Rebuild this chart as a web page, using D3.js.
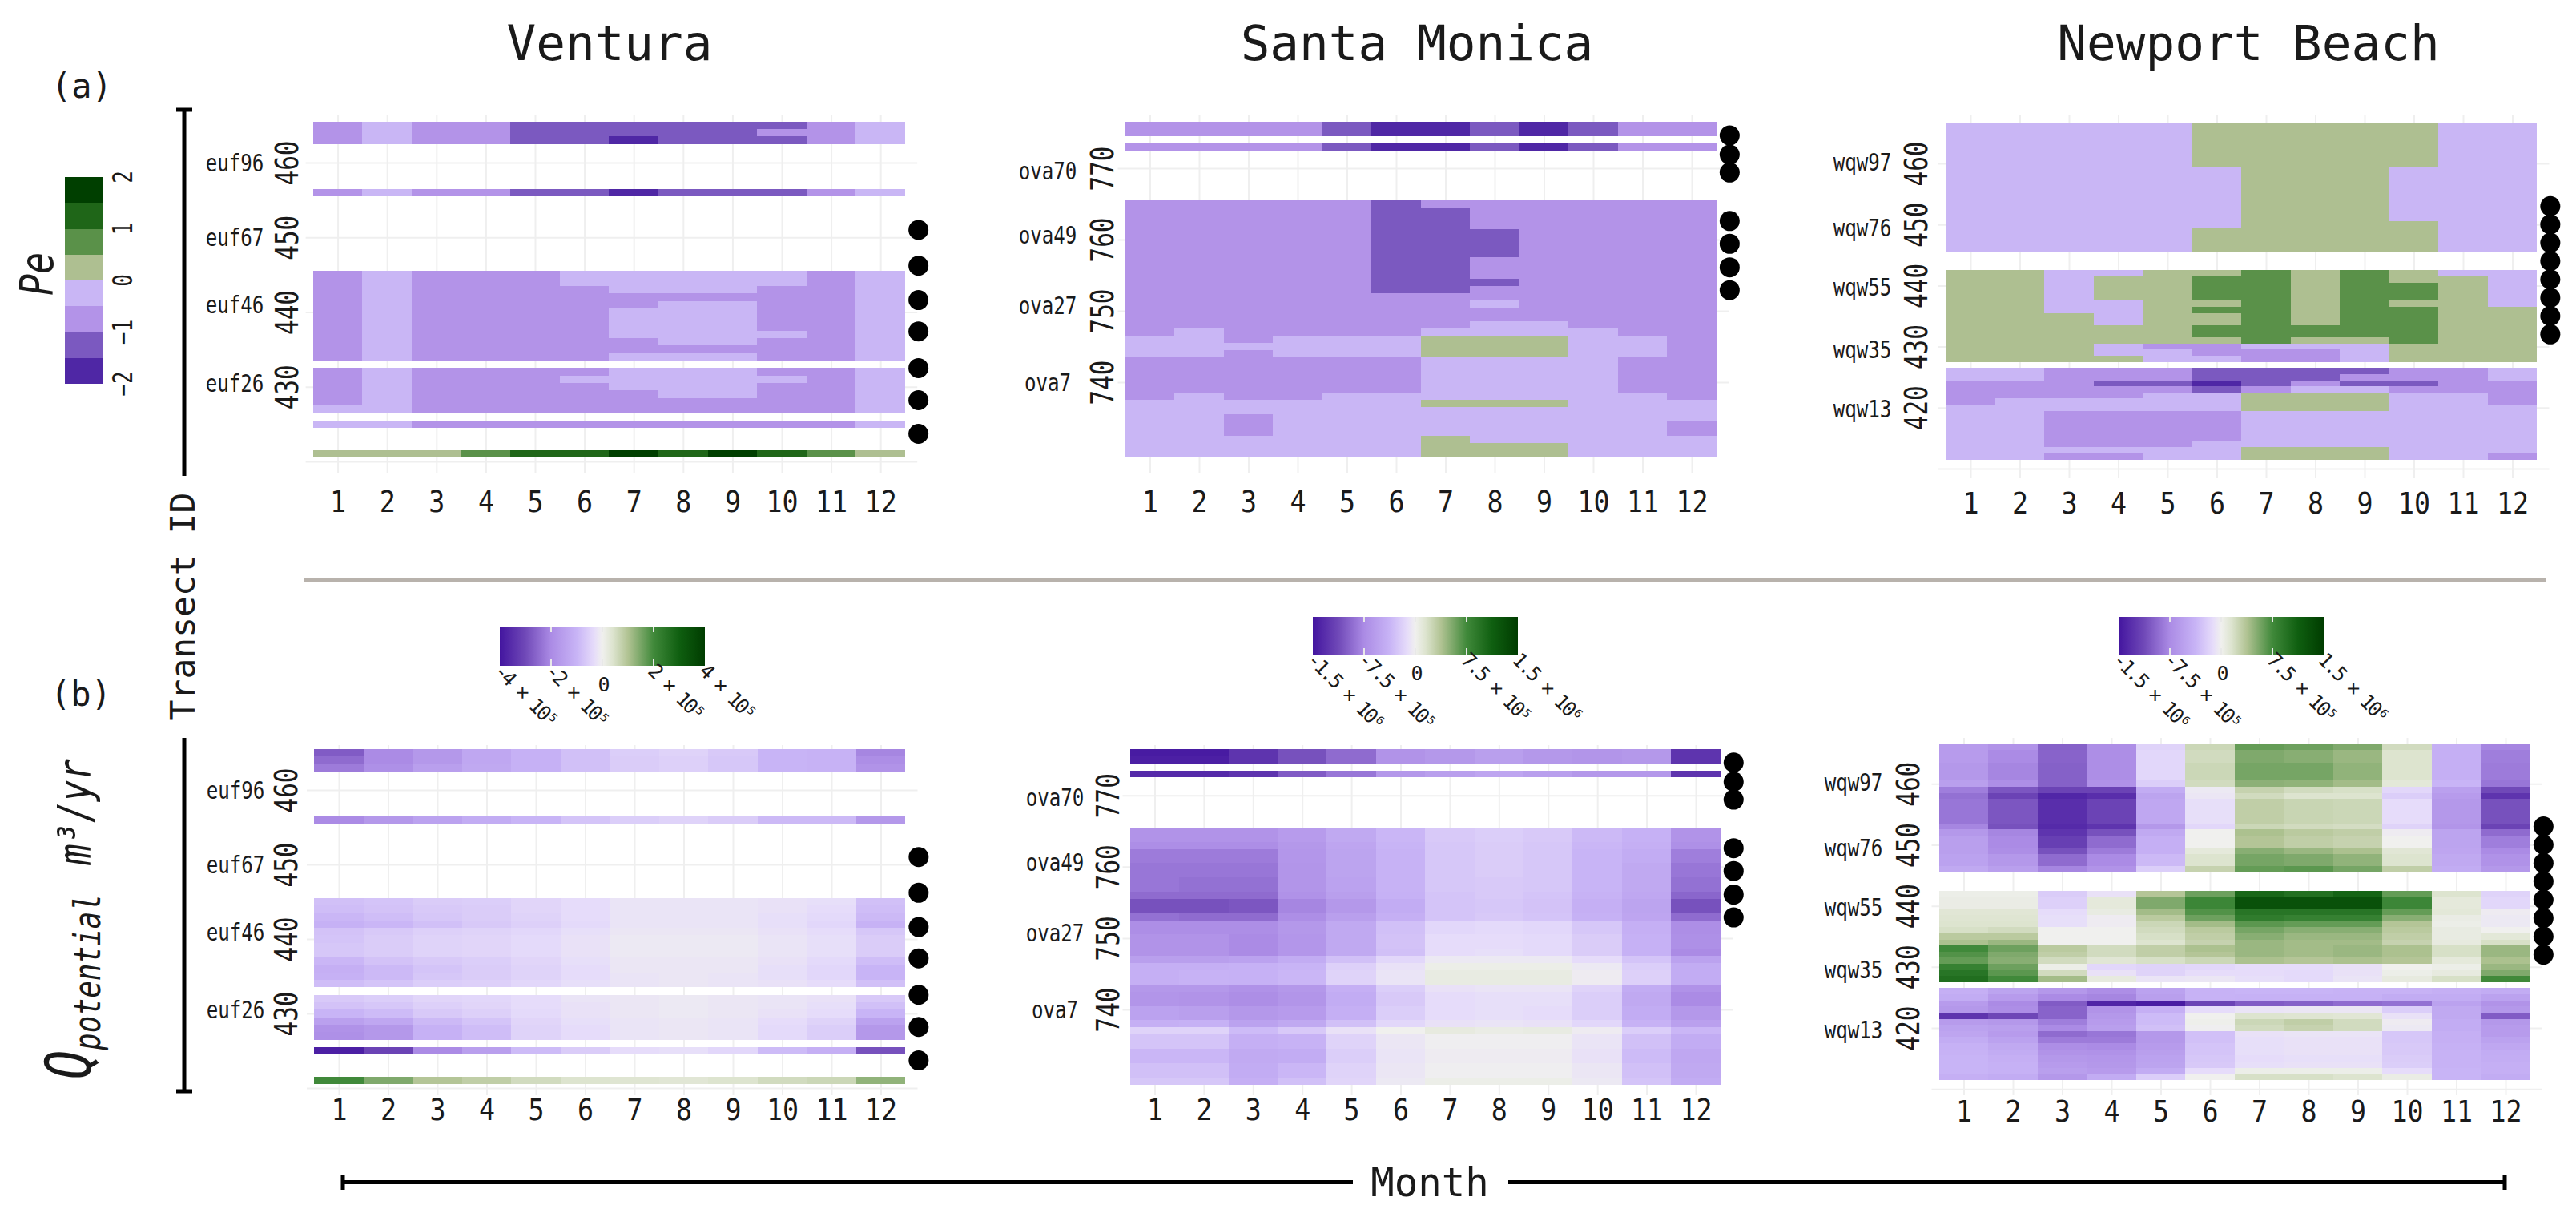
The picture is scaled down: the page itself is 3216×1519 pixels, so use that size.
<!DOCTYPE html>
<html>
<head>
<meta charset="utf-8">
<script src="https://cdn.jsdelivr.net/npm/d3@7"></script>
<style>
  body { margin: 0; background: #fff; }
  text { font-family: "DejaVu Sans Mono", monospace; fill: #1a1a1a; }
</style>
</head>
<body>
<svg id="chart" width="3216" height="1519"></svg>
<script>
const months = [1, 2, 3, 4, 5, 6, 7, 8, 9, 10, 11, 12];
const siteNames = ["Ventura", "Santa Monica", "Newport Beach"];

// Pe class midpoints, one letter per colour bar step
const a = -1.75, b = -1.25, c = -0.75, d = -0.25, e = 0.25, f = 0.75, g = 1.25;
const h = 1.75;

// each row: first transect, last transect, then one value per month
const peVentura = [
  [465, 465, c, d, c, c, b, b, b, b, b, b, c, d],
  [464, 464, c, d, c, c, b, b, b, b, b, c, c, d],
  [463, 463, c, d, c, c, b, b, a, b, b, b, c, d],
  [456, 456, c, d, c, c, b, b, a, b, b, b, c, d],
  [445, 444, c, d, c, c, c, d, d, d, d, d, c, d],
  [443, 443, c, d, c, c, c, c, d, d, d, c, c, d],
  [442, 442, c, d, c, c, c, c, c, c, c, c, c, d],
  [441, 441, c, d, c, c, c, c, c, d, d, c, c, d],
  [440, 438, c, d, c, c, c, c, d, d, d, c, c, d],
  [437, 437, c, d, c, c, c, c, d, d, d, d, c, d],
  [436, 436, c, d, c, c, c, c, c, d, d, c, c, d],
  [435, 435, c, d, c, c, c, c, c, c, c, c, c, d],
  [434, 434, c, d, c, c, c, c, d, d, d, c, c, d],
  [432, 432, c, d, c, c, c, c, d, d, d, c, c, d],
  [431, 431, c, d, c, c, c, d, d, d, d, d, c, d],
  [430, 430, c, d, c, c, c, c, d, d, d, c, c, d],
  [429, 429, c, d, c, c, c, c, c, d, d, c, c, d],
  [428, 428, c, d, c, c, c, c, c, c, c, c, c, d],
  [427, 427, d, d, c, c, c, c, c, c, c, c, c, d],
  [425, 425, d, d, c, c, c, c, c, c, c, c, c, d],
  [421, 421, e, e, e, f, g, g, h, g, h, g, f, e]
];

const peSantaMonica = [
  [776, 775, c, c, c, c, b, a, a, b, a, b, c, c],
  [773, 773, c, c, c, c, b, a, a, b, a, b, c, c],
  [765, 765, c, c, c, c, c, b, c, c, c, c, c, c],
  [764, 762, c, c, c, c, c, b, b, c, c, c, c, c],
  [761, 758, c, c, c, c, c, b, b, b, c, c, c, c],
  [757, 755, c, c, c, c, c, b, b, c, c, c, c, c],
  [754, 754, c, c, c, c, c, b, b, b, c, c, c, c],
  [753, 753, c, c, c, c, c, b, b, c, c, c, c, c],
  [752, 752, c, c, c, c, c, c, c, c, c, c, c, c],
  [751, 751, c, c, c, c, c, c, c, d, c, c, c, c],
  [750, 749, c, c, c, c, c, c, c, c, c, c, c, c],
  [748, 748, c, c, c, c, c, c, c, d, d, c, c, c],
  [747, 747, c, d, c, c, c, c, d, d, d, d, c, c],
  [746, 746, d, d, c, d, d, d, e, e, e, d, d, c],
  [745, 745, d, d, d, d, d, d, e, e, e, d, d, c],
  [744, 744, d, d, c, d, d, d, e, e, e, d, d, c],
  [743, 739, c, c, c, c, c, c, d, d, d, d, c, c],
  [738, 738, c, d, c, c, d, d, d, d, d, d, d, c],
  [737, 737, d, d, d, d, d, d, e, e, e, d, d, d],
  [736, 736, d, d, d, d, d, d, d, d, d, d, d, d],
  [735, 735, d, d, c, d, d, d, d, d, d, d, d, d],
  [734, 733, d, d, c, d, d, d, d, d, d, d, d, c],
  [732, 732, d, d, d, d, d, d, e, d, d, d, d, d],
  [731, 730, d, d, d, d, d, d, e, e, e, d, d, d]
];

const peNewport = [
  [466, 460, d, d, d, d, d, e, e, e, e, e, d, d],
  [459, 451, d, d, d, d, d, d, e, e, e, d, d, d],
  [450, 450, d, d, d, d, d, d, e, e, e, e, d, d],
  [449, 446, d, d, d, d, d, e, e, e, e, e, d, d],
  [442, 442, e, e, d, d, e, e, f, e, f, e, d, d],
  [441, 441, e, e, d, e, e, f, f, e, f, e, e, d],
  [440, 438, e, e, d, e, e, f, f, e, f, f, e, d],
  [437, 437, e, e, d, d, e, e, f, e, f, e, e, d],
  [436, 436, e, e, d, d, e, f, f, e, f, f, e, e],
  [435, 434, e, e, e, d, e, e, f, e, f, f, e, e],
  [433, 432, e, e, e, e, e, f, f, f, f, f, e, e],
  [431, 431, e, e, e, e, e, e, f, e, e, f, e, e],
  [430, 430, e, e, e, d, c, c, d, d, d, e, e, e],
  [429, 429, e, e, e, d, d, c, c, c, d, e, e, e],
  [428, 428, e, e, e, e, d, d, c, c, d, e, e, e],
  [426, 426, d, d, c, c, c, b, b, b, b, c, c, d],
  [425, 425, d, d, c, c, c, b, b, b, c, c, c, d],
  [424, 424, c, c, c, b, b, a, b, c, b, b, c, c],
  [423, 423, c, c, c, c, c, b, c, d, d, c, c, c],
  [422, 422, c, c, c, c, d, d, e, e, e, d, d, c],
  [421, 421, c, d, d, d, d, d, e, e, e, d, d, c],
  [420, 420, d, d, d, d, d, d, e, e, e, d, d, d],
  [419, 415, d, d, c, c, c, c, d, d, d, d, d, d],
  [414, 414, d, d, c, c, c, d, d, d, d, d, d, d],
  [413, 413, d, d, d, d, d, d, e, e, e, d, d, d],
  [412, 412, d, d, c, c, d, d, e, e, e, d, d, c]
];

// Q rows hold the value as a share of that panel's colour bar limit
const qVentura = [
  [465, 465, -.68, -.5, -.42, -.33, -.27, -.2, -.14, -.12, -.16, -.25, -.26, -.52],
  [464, 464, -.62, -.5, -.42, -.33, -.27, -.2, -.15, -.13, -.17, -.25, -.26, -.48],
  [463, 463, -.56, -.47, -.38, -.32, -.27, -.2, -.15, -.13, -.17, -.25, -.26, -.45],
  [456, 456, -.5, -.42, -.36, -.3, -.25, -.18, -.14, -.12, -.15, -.23, -.23, -.42],
  [445, 445, -.2, -.18, -.15, -.14, -.11, -.08, -.05, -.05, -.05, -.06, -.07, -.2],
  [444, 444, -.21, -.19, -.16, -.15, -.11, -.08, -.05, -.05, -.05, -.06, -.08, -.21],
  [443, 443, -.24, -.21, -.17, -.15, -.12, -.08, -.05, -.05, -.05, -.07, -.09, -.23],
  [442, 442, -.27, -.24, -.2, -.16, -.13, -.09, -.05, -.05, -.05, -.07, -.1, -.26],
  [441, 441, -.19, -.16, -.13, -.12, -.1, -.07, -.04, -.04, -.04, -.06, -.08, -.17],
  [440, 440, -.18, -.15, -.12, -.11, -.09, -.06, -.03, -.03, -.03, -.05, -.07, -.15],
  [439, 438, -.17, -.15, -.12, -.11, -.09, -.06, -.03, -.03, -.03, -.05, -.07, -.15],
  [437, 437, -.24, -.19, -.16, -.14, -.11, -.07, -.04, -.04, -.04, -.06, -.09, -.21],
  [436, 436, -.28, -.23, -.18, -.15, -.12, -.08, -.04, -.04, -.04, -.07, -.1, -.25],
  [435, 435, -.27, -.23, -.17, -.15, -.12, -.08, -.05, -.04, -.05, -.07, -.1, -.25],
  [434, 434, -.21, -.18, -.14, -.13, -.1, -.07, -.05, -.04, -.05, -.06, -.08, -.2],
  [432, 432, -.16, -.14, -.11, -.1, -.08, -.05, -.04, -.03, -.04, -.05, -.06, -.16],
  [431, 431, -.19, -.17, -.13, -.11, -.08, -.06, -.04, -.03, -.04, -.05, -.07, -.2],
  [430, 430, -.25, -.22, -.16, -.13, -.09, -.06, -.04, -.03, -.04, -.06, -.08, -.25],
  [429, 429, -.37, -.33, -.23, -.18, -.11, -.07, -.05, -.04, -.05, -.08, -.12, -.36],
  [428, 428, -.46, -.42, -.27, -.21, -.12, -.08, -.05, -.04, -.05, -.09, -.14, -.42],
  [427, 427, -.47, -.42, -.27, -.21, -.12, -.08, -.05, -.04, -.05, -.09, -.14, -.42],
  [425, 425, -.95, -.78, -.5, -.38, -.22, -.15, -.08, -.07, -.1, -.22, -.28, -.72],
  [421, 421, .5, .36, .24, .2, .14, .1, .09, .08, .1, .14, .16, .32]
];

const qSantaMonica = [
  [776, 776, -.97, -.97, -.85, -.72, -.62, -.45, -.42, -.38, -.42, -.44, -.42, -.85],
  [775, 775, -.95, -.95, -.85, -.72, -.62, -.45, -.42, -.38, -.42, -.44, -.42, -.85],
  [773, 773, -.9, -.9, -.85, -.68, -.58, -.42, -.38, -.34, -.38, -.42, -.42, -.85],
  [765, 764, -.45, -.45, -.45, -.4, -.32, -.24, -.16, -.14, -.16, -.23, -.27, -.45],
  [763, 763, -.48, -.48, -.48, -.42, -.34, -.25, -.17, -.15, -.17, -.24, -.28, -.47],
  [762, 761, -.56, -.56, -.56, -.43, -.35, -.26, -.17, -.15, -.17, -.25, -.3, -.55],
  [760, 759, -.58, -.58, -.58, -.44, -.35, -.26, -.17, -.15, -.17, -.25, -.32, -.58],
  [758, 757, -.58, -.6, -.6, -.44, -.36, -.26, -.17, -.16, -.17, -.25, -.32, -.6],
  [756, 756, -.62, -.62, -.62, -.46, -.38, -.27, -.18, -.16, -.18, -.26, -.33, -.64],
  [755, 754, -.72, -.72, -.7, -.52, -.42, -.3, -.18, -.17, -.19, -.28, -.35, -.72],
  [753, 753, -.6, -.62, -.62, -.48, -.38, -.28, -.18, -.16, -.18, -.27, -.34, -.62],
  [752, 751, -.48, -.48, -.48, -.42, -.32, -.2, -.1, -.09, -.1, -.17, -.28, -.48],
  [750, 749, -.45, -.45, -.5, -.43, -.32, -.19, -.08, -.08, -.09, -.15, -.27, -.47],
  [748, 748, -.45, -.45, -.5, -.43, -.32, -.2, -.08, -.07, -.09, -.15, -.27, -.5],
  [747, 747, -.38, -.38, -.36, -.3, -.2, -.1, -.03, -.03, -.03, -.08, -.18, -.36],
  [746, 746, -.28, -.28, -.27, -.25, -.13, -.06, .02, .02, .02, -.03, -.14, -.3],
  [745, 744, -.28, -.26, -.27, -.24, -.12, -.05, .04, .04, .04, -.02, -.13, -.3],
  [743, 743, -.42, -.42, -.46, -.42, -.28, -.14, -.06, -.05, -.05, -.12, -.3, -.46],
  [742, 741, -.44, -.45, -.48, -.44, -.3, -.16, -.08, -.07, -.07, -.14, -.32, -.5],
  [740, 739, -.36, -.38, -.42, -.4, -.28, -.14, -.08, -.07, -.08, -.14, -.3, -.42],
  [738, 738, -.28, -.27, -.36, -.32, -.2, -.1, -.06, -.05, -.06, -.1, -.26, -.37],
  [737, 737, -.12, -.12, -.22, -.16, -.06, 0, .05, .03, .04, -.02, -.14, -.24],
  [736, 735, -.18, -.18, -.28, -.26, -.12, -.04, -.01, -.01, -.01, -.05, -.2, -.3],
  [734, 733, -.24, -.24, -.31, -.3, -.14, -.05, -.02, -.02, -.02, -.06, -.22, -.33],
  [732, 731, -.2, -.2, -.3, -.24, -.12, -.04, -.01, -.01, -.01, -.04, -.2, -.32],
  [730, 730, -.17, -.17, -.28, -.2, -.11, -.03, .02, .02, .02, -.03, -.18, -.3]
];

const qNewport = [
  [466, 466, -.4, -.45, -.66, -.48, -.12, .16, .42, .4, .36, .14, -.28, -.52],
  [465, 464, -.4, -.5, -.65, -.48, -.1, .14, .36, .34, .3, .1, -.28, -.55],
  [463, 461, -.42, -.52, -.66, -.48, -.1, .16, .38, .38, .32, .1, -.28, -.56],
  [460, 460, -.38, -.48, -.66, -.46, -.14, .14, .33, .32, .28, .07, -.25, -.58],
  [459, 459, -.55, -.7, -.78, -.78, -.3, -.03, .18, .14, .12, -.1, -.37, -.75],
  [458, 458, -.6, -.78, -.92, -.88, -.35, -.04, .14, .1, .1, -.14, -.4, -.85],
  [457, 454, -.58, -.7, -.88, -.78, -.33, -.07, .2, .17, .16, -.08, -.42, -.72],
  [453, 453, -.52, -.72, -.9, -.85, -.42, -.1, .16, .14, .13, -.12, -.44, -.78],
  [452, 452, -.42, -.52, -.85, -.72, -.32, 0, .26, .22, .2, -.02, -.35, -.62],
  [451, 450, -.38, -.5, -.8, -.62, -.28, 0, .24, .2, .18, 0, -.35, -.55],
  [449, 449, -.38, -.48, -.72, -.56, -.28, .06, .34, .3, .26, .08, -.34, -.5],
  [448, 447, -.36, -.42, -.62, -.5, -.23, .1, .38, .36, .32, .1, -.32, -.46],
  [446, 446, -.32, -.38, -.52, -.45, -.14, .18, .42, .44, .38, .2, -.3, -.42],
  [442, 442, .02, .02, -.15, -.06, .24, .4, .7, .65, .72, .42, .1, -.12],
  [441, 440, .03, .03, -.13, .06, .36, .52, .85, .85, .85, .52, .06, -.1],
  [439, 439, .08, .08, -.08, .04, .28, .46, .62, .62, .62, .42, .07, -.02],
  [438, 438, .09, .09, -.07, -.02, .22, .4, .58, .55, .55, .34, .03, -.03],
  [437, 437, .1, .1, -.07, -.02, .16, .28, .44, .42, .42, .24, .02, -.03],
  [436, 436, .12, .14, 0, 0, .14, .22, .38, .34, .34, .22, .04, 0],
  [435, 435, .22, .22, 0, 0, .12, .2, .34, .3, .3, .2, .04, .07],
  [434, 434, .26, .3, 0, 0, .1, .18, .3, .28, .28, .18, .05, .12],
  [433, 433, .5, .4, .22, .14, .2, .26, .3, .28, .3, .26, .12, .3],
  [432, 432, .46, .36, .2, .14, .2, .24, .3, .28, .3, .26, .12, .3],
  [431, 431, .42, .34, .14, .08, .12, .16, .26, .24, .26, .24, .06, .26],
  [430, 430, .55, .4, .02, -.1, -.12, -.1, -.08, -.08, -.06, 0, .02, .3],
  [429, 429, .62, .44, .14, -.06, -.12, -.08, -.08, -.09, -.06, .02, .05, .36],
  [428, 428, .66, .5, .28, .05, -.05, -.04, -.07, -.09, -.05, .05, .12, .5],
  [426, 426, -.28, -.35, -.42, -.48, -.36, -.26, -.25, -.25, -.26, -.26, -.28, -.3],
  [425, 425, -.3, -.4, -.5, -.52, -.38, -.26, -.27, -.27, -.27, -.3, -.3, -.36],
  [424, 424, -.4, -.5, -.68, -.93, -.97, -.78, -.68, -.66, -.62, -.6, -.36, -.45],
  [423, 423, -.42, -.48, -.65, -.45, -.28, -.08, -.05, -.04, -.04, -.14, -.32, -.42],
  [422, 422, -.85, -.76, -.65, -.42, -.22, 0, .1, .09, .08, -.06, -.32, -.68],
  [421, 421, -.4, -.42, -.55, -.4, -.22, .01, .16, .2, .14, -.02, -.3, -.42],
  [420, 420, -.36, -.38, -.5, -.38, -.2, -.01, .14, .18, .14, -.03, -.3, -.4],
  [419, 419, -.34, -.4, -.62, -.58, -.42, -.2, -.06, -.05, -.05, -.17, -.28, -.4],
  [418, 418, -.3, -.36, -.56, -.56, -.42, -.2, -.07, -.06, -.06, -.17, -.28, -.36],
  [417, 417, -.27, -.32, -.48, -.5, -.4, -.18, -.07, -.06, -.06, -.16, -.27, -.33],
  [416, 416, -.26, -.3, -.45, -.46, -.38, -.18, -.07, -.06, -.06, -.16, -.26, -.3],
  [415, 415, -.25, -.28, -.42, -.43, -.36, -.17, -.08, -.07, -.07, -.15, -.26, -.29],
  [414, 414, -.25, -.27, -.4, -.42, -.35, -.16, -.07, -.06, -.06, -.14, -.26, -.28],
  [413, 413, -.25, -.27, -.38, -.4, -.3, -.08, .02, .02, .02, -.08, -.25, -.28],
  [412, 412, -.28, -.3, -.42, -.3, -.14, 0, .12, .12, .1, .03, -.25, -.3]
];

const venturaNames = ["euf96", "euf67", "euf46", "euf26"];
const venturaNameIds = [460, 450, 441, 430.5];
const santaMonicaNames = ["ova70", "ova49", "ova27", "ova7"];
const santaMonicaNameIds = [769.7, 760.7, 750.8, 740];
const newportNames = ["wqw97", "wqw76", "wqw55", "wqw35", "wqw13"];
const newportNameIds = [460.3, 449.5, 439.8, 429.6, 419.8];

const venturaDots = [451, 446.2, 441.6, 437.4, 432.5, 428.2, 423.7];
const santaMonicaDots = [774.6, 771.9, 769.4, 762.6, 759.4, 756.1, 752.9];
const newportDots = [453, 450, 447, 444, 441, 438, 435, 432];
const dotMonth = 12.77;

const venturaTicks = [430, 440, 450, 460];
const santaMonicaTicks = [740, 750, 760, 770];
const newportTicks = [420, 430, 440, 450, 460];

const peTicks = [2, 1, 0, -1, -2];
const peBreaks = [-1.5, -1, -0.5, 0, 0.5, 1, 1.5];
const peColors = ["#4f27a5", "#7b59c0", "#b393e8", "#c9b6f5", "#aebf91", "#5a9149", "#1f6618", "#003f00"];
const qStops = [-1, -0.75, -0.5, -0.25, -0.08, 0, 0.1, 0.25, 0.5, 0.75, 1];
const qColors = ["#43159f", "#7049b8", "#ab8be5", "#c8b4f6", "#e6dcfa", "#f0f0ee", "#dde4cf", "#b1c393", "#40893a", "#0f5f10", "#003c00"];

// Q colour bars, in units of 1e5 m3/yr
const venturaBarTicks = [-4, -2, 0, 2, 4];
const venturaBarLabels = ["-4 × 10⁵", "-2 × 10⁵", "0", "2 × 10⁵", "4 × 10⁵"];
const coastBarTicks = [-15, -7.5, 0, 7.5, 15];
const coastBarLabels = ["-1.5 × 10⁶", "-7.5 × 10⁵", "0", "7.5 × 10⁵", "1.5 × 10⁶"];

const peColor = d3.scaleThreshold().domain(peBreaks).range(peColors);
const qColor = d3.scaleLinear().domain(qStops).range(qColors);

const svg = d3.select("#chart");
svg.append("rect").attr("width", 3216).attr("height", 1519).attr("fill", "#fff");

const panels = [
  { rows: peVentura, color: peColor, x1: 421.6, x12: 1099.2, yIds: [420, 460], yPx: [576, 203], grid: [144, 590], ticks: venturaTicks, gridIds: [420], names: venturaNames, nameIds: venturaNameIds, dots: venturaDots, nameX: 293, tickX: 359, monthY: 626 },
  { rows: peSantaMonica, color: peColor, x1: 1435.5, x12: 2112, yIds: [740, 770], yPx: [477, 210], grid: [144, 590], ticks: santaMonicaTicks, gridIds: [], names: santaMonicaNames, nameIds: santaMonicaNameIds, dots: santaMonicaDots, nameX: 1308, tickX: 1376.6, monthY: 626 },
  { rows: peNewport, color: peColor, x1: 2460, x12: 3136.5, yIds: [420, 460], yPx: [508.8, 204], grid: [144, 597], ticks: newportTicks, gridIds: [410], names: newportNames, nameIds: newportNameIds, dots: newportDots, nameX: 2325, tickX: 2393, monthY: 628 },
  { rows: qVentura, color: qColor, x1: 423, x12: 1099.5, yIds: [420, 460], yPx: [1358, 986], grid: [930, 1367], ticks: venturaTicks, gridIds: [420], names: venturaNames, nameIds: venturaNameIds, dots: venturaDots, nameX: 294, tickX: 358, monthY: 1385 },
  { rows: qSantaMonica, color: qColor, x1: 1441.5, x12: 2117, yIds: [740, 770], yPx: [1260, 992.7], grid: [930, 1367], ticks: santaMonicaTicks, gridIds: [], names: santaMonicaNames, nameIds: santaMonicaNameIds, dots: santaMonicaDots, nameX: 1317, tickX: 1384, monthY: 1385 },
  { rows: qNewport, color: qColor, x1: 2451.5, x12: 3128, yIds: [420, 460], yPx: [1283, 978.3], grid: [921, 1367], ticks: newportTicks, gridIds: [410], names: newportNames, nameIds: newportNameIds, dots: newportDots, nameX: 2314, tickX: 2382.5, monthY: 1387 }
];

panels.forEach(p => {
  const x = d3.scaleLinear().domain([1, 12]).range([p.x1, p.x12]);
  const y = d3.scaleLinear().domain(p.yIds).range(p.yPx);
  const left = p.x1 - 40, right = p.x12 + 46;

  // month axis: tick lines double as the vertical grid
  const xAxis = svg.append("g")
    .attr("transform", `translate(0,${p.grid[1]})`)
    .call(d3.axisBottom(x).tickValues(months).tickFormat(d3.format("d")).tickSize(p.grid[0] - p.grid[1]).tickPadding(0));
  xAxis.select(".domain").remove();
  xAxis.selectAll("line").attr("stroke", "#efefef").attr("stroke-width", 2);
  xAxis.selectAll("text")
    .attr("y", p.monthY - p.grid[1]).attr("dy", "0.36em")
    .attr("font-size", 37).attr("font-family", "DejaVu Sans Mono").attr("fill", "#1a1a1a")
    .attr("transform", "scale(0.9,1)");

  // transect axis: same idea for the horizontal grid
  const yAxis = svg.append("g")
    .attr("transform", `translate(${left},0)`)
    .call(d3.axisLeft(y).tickValues(p.ticks.concat(p.gridIds)).tickFormat(v => p.ticks.includes(v) ? v : "").tickSize(left - right).tickPadding(0));
  yAxis.select(".domain").remove();
  yAxis.selectAll("line").attr("stroke", "#efefef").attr("stroke-width", 2);
  yAxis.selectAll("text")
    .attr("text-anchor", "middle").attr("x", 0).attr("dy", 0)
    .attr("font-size", 31).attr("font-family", "DejaVu Sans Mono").attr("fill", "#1a1a1a")
    .attr("transform", `translate(${p.tickX - left + 13},0) scale(1.25,1) rotate(-90)`);

  // heat cells: one rect per month per row
  const rowG = svg.append("g").attr("shape-rendering", "crispEdges")
    .selectAll("g").data(p.rows).join("g");
  rowG.selectAll("rect")
    .data(r => months.map((m, i) => ({ m, hi: r[0], lo: r[1], v: r[i + 2] })))
    .join("rect")
    .attr("x", k => x(k.m - 0.5))
    .attr("width", k => x(k.m + 0.5) - x(k.m - 0.5))
    .attr("y", k => y(k.hi + 0.5))
    .attr("height", k => y(k.lo - 0.5) - y(k.hi + 0.5))
    .attr("fill", k => p.color(k.v));

  svg.append("g").selectAll("circle").data(p.dots).join("circle")
    .attr("cx", x(dotMonth)).attr("cy", v => y(v)).attr("r", 12.5).attr("fill", "#000");

  svg.append("g").selectAll("text").data(p.names).join("text")
    .attr("text-anchor", "middle").attr("font-size", 31)
    .attr("transform", (n, i) => `translate(${p.nameX},${y(p.nameIds[i]) + 11}) scale(0.78,1)`)
    .text(n => n);
});

// site titles
const titleX = d3.scaleOrdinal().domain(siteNames).range([761, 1769, 2807]);
svg.append("g").selectAll("text").data(siteNames).join("text")
  .attr("x", n => titleX(n)).attr("y", 75)
  .attr("text-anchor", "middle").attr("font-size", 61)
  .text(n => n);

// Pe colour bar
const peBar = d3.scaleLinear().domain([-2, 2]).range([479, 221]);
const peBins = d3.range(-2, 2, 0.5);
svg.append("g").attr("shape-rendering", "crispEdges").selectAll("rect").data(peBins).join("rect")
  .attr("x", 81).attr("width", 48)
  .attr("y", v => peBar(v + 0.5)).attr("height", v => peBar(v) - peBar(v + 0.5))
  .attr("fill", v => peColor(v + 0.25));
svg.append("g").selectAll("text").data(peTicks).join("text")
  .attr("text-anchor", "middle").attr("font-size", 26)
  .attr("transform", v => `translate(165,${peBar(v)}) scale(1.3,1) rotate(-90)`)
  .text(v => d3.format("d")(v));

// Q colour bars
const bars = [
  { x0: 624, x1: 880, y0: 783, y1: 831, limit: 4, ticks: venturaBarTicks, labels: venturaBarLabels },
  { x0: 1639, x1: 1895, y0: 770, y1: 817, limit: 15, ticks: coastBarTicks, labels: coastBarLabels },
  { x0: 2645, x1: 2901, y0: 770, y1: 817, limit: 15, ticks: coastBarTicks, labels: coastBarLabels }
];
const defs = svg.append("defs");
bars.forEach((bar, n) => {
  const id = "qBar" + n;
  defs.append("linearGradient").attr("id", id)
    .selectAll("stop").data(qStops).join("stop")
    .attr("offset", t => (t + 1) / 2)
    .attr("stop-color", t => qColor(t));
  svg.append("rect")
    .attr("x", bar.x0).attr("y", bar.y0)
    .attr("width", bar.x1 - bar.x0).attr("height", bar.y1 - bar.y0)
    .attr("fill", `url(#${id})`);
  const sx = d3.scaleLinear().domain([-bar.limit, bar.limit]).range([bar.x0, bar.x1]);
  const axis = svg.append("g")
    .attr("transform", `translate(0,${bar.y1})`)
    .call(d3.axisBottom(sx).tickValues(bar.ticks).tickFormat((v, i) => bar.labels[i]).tickSizeInner(0).tickPadding(0));
  axis.select(".domain").remove();
  axis.selectAll("text")
    .attr("font-size", 25).attr("font-family", "DejaVu Sans Mono").attr("fill", "#1a1a1a")
    .attr("letter-spacing", -2.8)
    .attr("y", 0).attr("dy", 0)
    .attr("text-anchor", v => v === 0 ? "middle" : "start")
    .attr("transform", v => v === 0 ? "translate(0,32)" : "translate(-9,8) rotate(45)");
  // little white marks at the inner ticks
  svg.append("g").selectAll("path").data(bar.ticks.filter(v => Math.abs(v) !== bar.limit)).join("path")
    .attr("d", v => `M${sx(v)},${bar.y0}v6M${sx(v)},${bar.y1}v-8`)
    .attr("stroke", "#e8e8e8").attr("stroke-width", 2);
});

// frame lines
const ink = svg.append("g").attr("stroke", "#000").attr("stroke-width", 5).attr("fill", "none");
ink.append("path").attr("d", "M220,137H240M230,137V594");
ink.append("path").attr("d", "M230,921V1362M220,1362H240");
ink.append("path").attr("d", "M428,1466V1485M428,1475.5H1689M1883,1475.5H3127M3127,1466V1485");
svg.append("path").attr("d", "M379,724H3178").attr("stroke", "#b8b2ac").attr("stroke-width", 5);

svg.append("text").attr("x", 1785).attr("y", 1493).attr("text-anchor", "middle")
  .attr("font-size", 49).text("Month");
svg.append("text").attr("text-anchor", "middle").attr("font-size", 43)
  .attr("transform", "translate(243,757) rotate(-90)").text("Transect ID");
svg.append("text").attr("x", 102).attr("y", 122).attr("text-anchor", "middle").attr("font-size", 42).text("(a)");
svg.append("text").attr("x", 101).attr("y", 881).attr("text-anchor", "middle").attr("font-size", 42).text("(b)");
svg.append("text").attr("text-anchor", "middle").attr("font-size", 45).attr("font-style", "italic")
  .attr("transform", "translate(66,342) scale(1.25,1) rotate(-90)").text("Pe");

const qLabel = svg.append("text").attr("font-style", "italic")
  .attr("transform", "translate(113,1347) scale(1.3,1) rotate(-90)");
qLabel.append("tspan").attr("font-size", 60).text("Q");
qLabel.append("tspan").attr("font-size", 36).attr("dy", 9).text("potential");
qLabel.append("tspan").attr("font-size", 44).attr("dy", -9).attr("dx", 36).text("m³/yr");
</script>
</body>
</html>
